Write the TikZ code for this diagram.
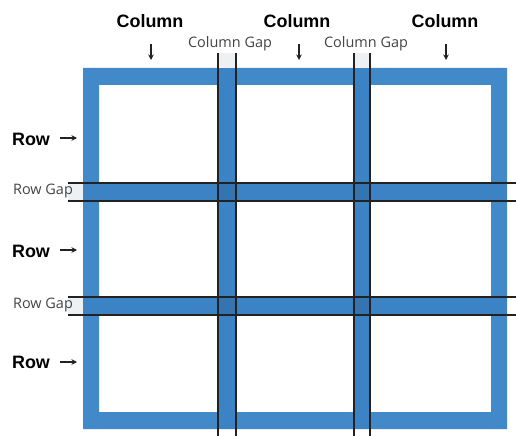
\documentclass[tikz,border=0pt]{standalone}
\usepackage{fontspec}
\setmainfont{Liberation Sans}
\newfontfamily\gapfont{Open Sans}
\usetikzlibrary{arrows.meta}
\definecolor{framebl}{HTML}{4289C9}
\definecolor{gapbl}{HTML}{3B83C4}
\definecolor{crossbl}{HTML}{3574B3}
\definecolor{gapgrey}{HTML}{EEF0F1}
\definecolor{linedk}{HTML}{222222}
\definecolor{gaptext}{HTML}{444444}
\tikzset{
  bigl/.style={font=\fontsize{18}{20}\selectfont\bfseries, text=black, inner sep=0pt},
  gapl/.style={font=\gapfont\fontsize{14.5}{16}\selectfont, text=gaptext, inner sep=0pt},
  pointer/.style={draw=linedk, line width=1.1bp, -{Stealth[length=5.5bp,width=5.5bp]}},
  gapline/.style={draw=linedk, line width=1.4bp},
}
\begin{document}
\begin{tikzpicture}[x=1bp,y=-1bp]
\useasboundingbox (0,0) rectangle (516,436);
\fill[white] (0,0) rectangle (516,436);
% frame
\fill[framebl, even odd rule] (83,68) rectangle (507,429) (99,85) rectangle (491,412);
% grey tabs outside the frame
\fill[gapgrey] (218,53) rectangle (236,68);
\fill[gapgrey] (354,53) rectangle (370,68);
\fill[gapgrey] (68,183) rectangle (83,201);
\fill[gapgrey] (68,297) rectangle (83,315);
% gap fills
\fill[gapbl] (218,68) rectangle (236,429);
\fill[gapbl] (354,68) rectangle (370,429);
\fill[gapbl] (83,183) rectangle (507,201);
\fill[gapbl] (83,297) rectangle (507,315);
% crossings
\foreach \xa/\xb in {218/236,354/370}
  \foreach \ya/\yb in {183/201,297/315}
    \fill[crossbl] (\xa,\ya) rectangle (\xb,\yb);
% gap lines
\coordinate (c1t) at (218,53); \coordinate (c1b) at (218,436);
\coordinate (c2t) at (236,53); \coordinate (c2b) at (236,436);
\coordinate (c3t) at (354,53); \coordinate (c3b) at (354,436);
\coordinate (c4t) at (370,53); \coordinate (c4b) at (370,436);
\coordinate (r1l) at (68,183); \coordinate (r1r) at (516,183);
\coordinate (r2l) at (68,201); \coordinate (r2r) at (516,201);
\coordinate (r3l) at (68,297); \coordinate (r3r) at (516,297);
\coordinate (r4l) at (68,315); \coordinate (r4r) at (516,315);
\foreach \n in {1,2,3,4} {
  \draw[gapline] (c\n t) -- (c\n b);
  \draw[gapline] (r\n l) -- (r\n r);
}
% labels
\node[bigl] (col1) at (150,21) {Column};
\node[bigl] (col2) at (297,21) {Column};
\node[bigl] (col3) at (445,21) {Column};
\node[gapl] (cg1) at (230,44) {Column Gap};
\node[gapl] (cg2) at (366,44) {Column Gap};
\node[bigl] (row1) at (31,139) {Row};
\node[bigl] (row2) at (31,251) {Row};
\node[bigl] (row3) at (31,362) {Row};
\node[gapl] (rg1) at (43,191) {Row Gap};
\node[gapl] (rg2) at (43,305) {Row Gap};
% pointers
\coordinate (a1s) at (151,44); \coordinate (a1e) at (151,60);
\coordinate (a2s) at (299,44); \coordinate (a2e) at (299,60);
\coordinate (a3s) at (446,44); \coordinate (a3e) at (446,60);
\coordinate (b1s) at (60,138); \coordinate (b1e) at (77,138);
\coordinate (b2s) at (60,250); \coordinate (b2e) at (77,250);
\coordinate (b3s) at (60,362); \coordinate (b3e) at (77,362);
\foreach \p in {a1,a2,a3,b1,b2,b3}
  \draw[pointer] (\p s) -- (\p e);
\end{tikzpicture}
\end{document}
